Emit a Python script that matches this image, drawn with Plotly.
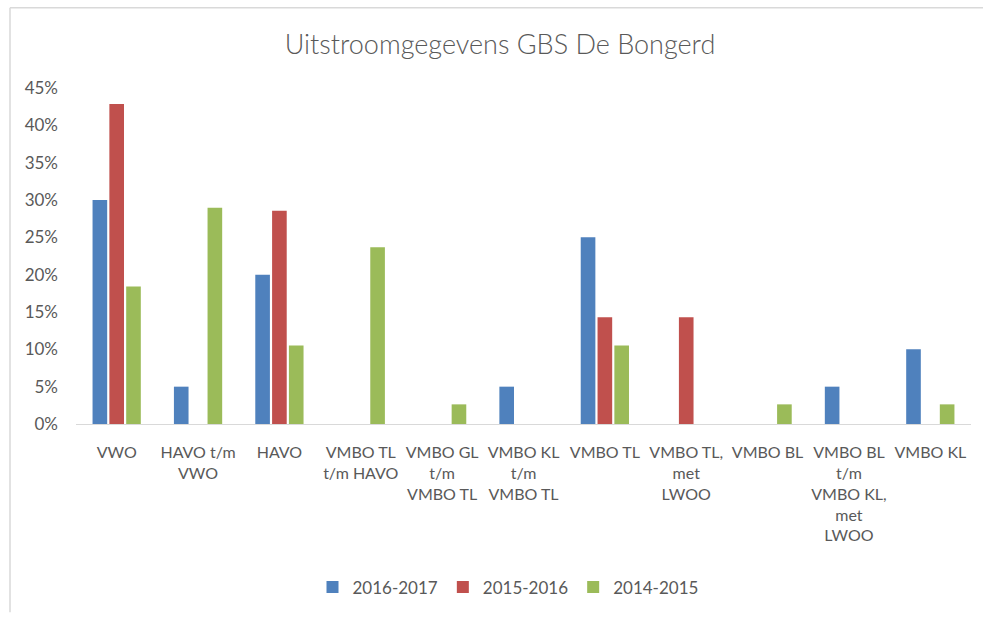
import plotly.graph_objects as go

categories = [
    "VWO", "HAVO t/m<br>VWO", "HAVO", "VMBO TL<br>t/m HAVO",
    "VMBO GL<br>t/m<br>VMBO TL", "VMBO KL<br>t/m<br>VMBO TL", "VMBO TL",
    "VMBO TL,<br>met<br>LWOO", "VMBO BL",
    "VMBO BL<br>t/m<br>VMBO KL,<br>met<br>LWOO", "VMBO KL",
]
s2016_2017 = [0.30, 0.05, 0.20, 0.0, 0.0, 0.05, 0.25, 0.0, 0.0, 0.05, 0.10]
s2015_2016 = [0.4286, 0.0, 0.2857, 0.0, 0.0, 0.0, 0.1429, 0.1429, 0.0, 0.0, 0.0]
s2014_2015 = [0.1842, 0.2895, 0.1053, 0.2368, 0.0263, 0.0, 0.1053, 0.0, 0.0263, 0.0, 0.0263]
series_names = ["2016-2017", "2015-2016", "2014-2015"]
colors = ["#4F81BD", "#C0504D", "#9BBB59"]
y_ticks = [0, 0.05, 0.10, 0.15, 0.20, 0.25, 0.30, 0.35, 0.40, 0.45]

FONT = "Lato"
GREY = "#595959"

fig = go.Figure()
for name, vals, col in zip(series_names, [s2016_2017, s2015_2016, s2014_2015], colors):
    fig.add_trace(go.Bar(
        x=list(range(len(categories))), y=vals, name=name,
        marker=dict(color=col, line=dict(width=0)),
    ))

W, H = 983, 617
L, R, T, B = 76, 12, 88, 190
pw = W - L - R
ph = H - T - B

def px_x(x):
    return (x - L) / pw

def px_y(y):
    return (H - B - y) / ph

fig.update_layout(
    width=W, height=H,
    margin=dict(l=L, r=R, t=T, b=B, pad=0),
    paper_bgcolor="white", plot_bgcolor="white",
    font=dict(family=FONT, color=GREY, size=16),
    title=dict(text="Uitstroomgegevens GBS De Bongerd", x=500 / W, xanchor="center",
               y=1 - 45 / H, yanchor="middle", yref="container",
               font=dict(family=FONT, size=27, color=GREY, weight=300)),
    barmode="group", bargap=0.38, bargroupgap=0.13,
    showlegend=True,
    legend=dict(orientation="h", x=px_x(508), xanchor="center", y=px_y(592), yanchor="middle",
                font=dict(family=FONT, size=17, color=GREY), itemwidth=30,
                traceorder="normal"),
    xaxis=dict(tickmode="array", tickvals=list(range(len(categories))), ticktext=categories,
               range=[-0.5, len(categories) - 0.5], showgrid=False, zeroline=False,
               showline=True, linecolor="#D9D9D9", linewidth=1, ticks="",
               ticklabelstandoff=14,
               tickfont=dict(family=FONT, size=16, color=GREY), tickangle=0),
    yaxis=dict(range=[0, 0.45], tickmode="array", tickvals=y_ticks, tickformat=".0%",
               showgrid=False, zeroline=False, showline=False, ticks="",
               ticklabelstandoff=17,
               tickfont=dict(family=FONT, size=17, color=GREY)),
    shapes=[
        dict(type="line", xref="paper", yref="paper", x0=px_x(10), x1=px_x(10),
             y0=px_y(7), y1=px_y(617), line=dict(color="#D9D9D9", width=1.5)),
        dict(type="line", xref="paper", yref="paper", x0=px_x(10), x1=px_x(983),
             y0=px_y(7), y1=px_y(7), line=dict(color="#D9D9D9", width=1.5)),
    ],
)

fig.write_html("out.html", config={"displayModeBar": False},
               post_script="document.body.style.margin='0';document.body.style.overflow='hidden';")
